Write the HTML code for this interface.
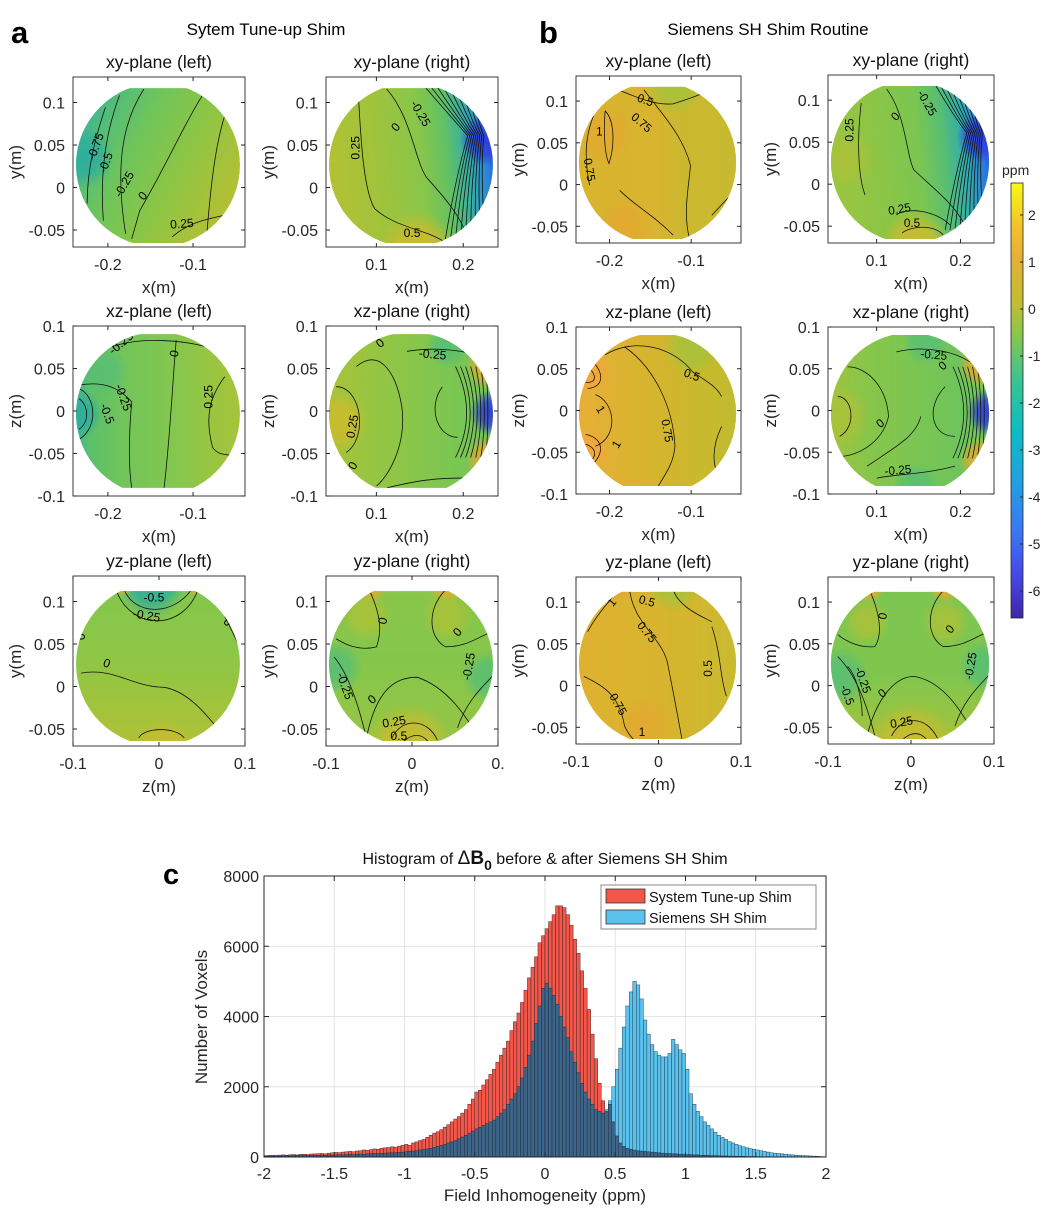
<!DOCTYPE html>
<html><head><meta charset="utf-8">
<style>
html,body{margin:0;padding:0;background:#fff;}
svg{display:block;font-family:"Liberation Sans",sans-serif;}
</style></head>
<body>
<svg id="fig" width="1052" height="1226" viewBox="0 0 1052 1226" xmlns="http://www.w3.org/2000/svg">
<defs id="defs">
<linearGradient id="cbar" x1="0" y1="1" x2="0" y2="0">
<stop offset="0" stop-color="#3e26a8"/><stop offset="0.1" stop-color="#4748e8"/><stop offset="0.2" stop-color="#3a78f5"/><stop offset="0.32" stop-color="#1fa2e0"/><stop offset="0.43" stop-color="#0bbdc3"/><stop offset="0.55" stop-color="#3cc48e"/><stop offset="0.66" stop-color="#8ec648"/><stop offset="0.72" stop-color="#bfbd33"/><stop offset="0.83" stop-color="#e6b035"/><stop offset="0.9" stop-color="#f2c22c"/><stop offset="1" stop-color="#f8fa14"/>
</linearGradient>
</defs>
<g id="panels"></g>
<g id="cb"></g>
<g id="hist"></g>
<text x="11" y="43" font-size="31" font-weight="bold">a</text>
<text x="539" y="43" font-size="31" font-weight="bold">b</text>
<text x="163" y="884" font-size="29" font-weight="bold">c</text>
<text x="266" y="35" font-size="17" text-anchor="middle">Sytem Tune-up Shim</text>
<text x="768" y="35" font-size="17" text-anchor="middle">Siemens SH Shim Routine</text>
</svg>
<script>
// ---------- Histogram data (bin width 0.025 ppm, -2 to 2) ----------
const binStart = -2;
const binWidth = 0.025;
const xTicks = [-2,-1.5,-1,-0.5,0,0.5,1,1.5,2];
const yTicks = [0,2000,4000,6000,8000];
const redCounts = [
40,45,50,45,55,60,50,65,70,60,75,80,70,85,90,95,100,90,110,120,
130,125,140,150,160,150,170,180,200,190,210,230,220,250,260,270,290,280,310,330,
360,330,400,430,470,500,560,620,680,720,780,850,920,1000,1080,1150,1250,1350,1500,1650,
1850,1900,2050,2200,2350,2500,2700,2900,3100,3300,3600,3850,4100,4400,4750,5100,5400,5700,6100,6300,
6500,6700,6900,7150,7150,7100,6900,6600,6200,5800,5300,4800,4200,3500,2800,2100,1600,1300,1500,1000,
600,400,300,250,220,200,180,170,160,150,140,130,120,110,100,100,90,90,80,80,
70,70,60,60,50,50,45,40,40,35,30,30,25,25,20,20,20,15,15,15,
12,12,10,10,10,8,8,8,6,6,6,5,5,5,4,4,3,3,2,2];
const blueCounts = [
20,25,20,30,25,30,35,30,40,35,40,45,40,50,45,50,55,50,60,55,
60,65,60,70,75,70,80,85,80,90,95,100,95,105,110,115,120,125,130,140,
150,160,170,180,200,210,230,250,270,300,330,360,400,430,470,520,570,620,680,740,
800,850,900,950,1000,1050,1150,1250,1350,1500,1650,1800,2000,2250,2550,2900,3300,3800,4300,4800,
4950,4800,4600,4350,4000,3700,3400,3000,2700,2400,2100,1850,1650,1500,1350,1300,1250,1350,1600,2000,
2500,3100,3700,4300,4700,5000,4900,4500,3900,3500,3200,3000,2900,2850,2850,2950,3350,3200,3050,2950,
2500,1800,1500,1300,1150,1000,900,800,700,620,560,500,440,400,360,320,290,260,240,220,
200,180,160,140,120,110,100,90,80,70,60,50,45,40,35,30,25,20,15,10];
const colorbarTicks = [2,1,0,-1,-2,-3,-4,-5,-6];

const NS='http://www.w3.org/2000/svg';
function mk(tag, attrs, parent){const e=document.createElementNS(NS,tag);for(const k in attrs)e.setAttribute(k,attrs[k]);if(parent)parent.appendChild(e);return e;}

// ---------- Histogram ----------
(function(){
const g=document.getElementById('hist');
const L=264,R=826,T=876,B=1157;
const X=v=>L+(v+2)/4*(R-L);
const Y=v=>B-v/8000*(B-T);
const grid=mk('g',{},g);


xTicks.forEach(t=>{mk('line',{x1:X(t),x2:X(t),y1:T,y2:B,stroke:'#e4e4e4','stroke-width':1},grid);});
yTicks.forEach(t=>{mk('line',{x1:L,x2:R,y1:Y(t),y2:Y(t),stroke:'#e4e4e4','stroke-width':1},grid);});
const bars=mk('g',{},g);


redCounts.forEach((v,i)=>{
  const x0=X(binStart+i*binWidth),x1=X(binStart+(i+1)*binWidth);
  const r=mk('rect',{x:x0,y:Y(v),width:x1-x0,height:B-Y(v),fill:'#f5564a',stroke:'#3a2020','stroke-width':0.45},bars);
  
  
});
blueCounts.forEach((v,i)=>{
  const x0=X(binStart+i*binWidth),x1=X(binStart+(i+1)*binWidth);
  const ov=Math.min(v,redCounts[i]);
  const r=mk('rect',{x:x0,y:Y(ov),width:x1-x0,height:B-Y(ov),fill:'#3d6489',stroke:'#1c2a38','stroke-width':0.45},bars);
  
  
  if(v>redCounts[i]){
    const r2=mk('rect',{x:x0,y:Y(v),width:x1-x0,height:Y(ov)-Y(v),fill:'#5bc2ee',stroke:'#1c3a4a','stroke-width':0.45},bars);
    
    
  }
});
mk('rect',{x:L,y:T,width:R-L,height:B-T,fill:'none',stroke:'#262626','stroke-width':1},g);
xTicks.forEach(t=>{
  mk('line',{x1:X(t),x2:X(t),y1:B,y2:B-5,stroke:'#262626'},g);mk('line',{x1:X(t),x2:X(t),y1:T,y2:T+5,stroke:'#262626'},g);
  const tx=mk('text',{x:X(t),y:B+22,'font-size':16,'text-anchor':'middle',fill:'#262626'},g);tx.textContent=String(t);
  
  
});
yTicks.forEach(t=>{
  mk('line',{x1:L,x2:L+5,y1:Y(t),y2:Y(t),stroke:'#262626'},g);mk('line',{x1:R,x2:R-5,y1:Y(t),y2:Y(t),stroke:'#262626'},g);
  const tx=mk('text',{x:L-5,y:Y(t)+6,'font-size':16,'text-anchor':'end',fill:'#262626'},g);tx.textContent=String(t);
  
  
});
const xt=mk('text',{x:545,y:1201,'font-size':17,'text-anchor':'middle',fill:'#262626'},g);xt.textContent='Field Inhomogeneity (ppm)';


const yt=mk('text',{x:0,y:0,'font-size':17,'text-anchor':'middle',fill:'#262626',transform:'translate(207,1017) rotate(-90)'},g);yt.textContent='Number of Voxels';


const tt=mk('text',{x:545,y:864,'font-size':16,'text-anchor':'middle',fill:'#111'},g);
tt.innerHTML='Histogram of <tspan font-size="19">Δ</tspan><tspan font-weight="bold" font-size="19">B</tspan><tspan font-weight="bold" dy="6" font-size="14">0</tspan><tspan dy="-6"> before &amp; after Siemens SH Shim</tspan>';


const lg=mk('g',{},g);


mk('rect',{x:601,y:885,width:215,height:44,fill:'#fff',stroke:'#8a8a8a','stroke-width':1},lg);
const e1=mk('rect',{x:606,y:889,width:39,height:14,fill:'#f5564a',stroke:'#333','stroke-width':0.8},lg);


const e2=mk('rect',{x:606,y:910,width:39,height:14,fill:'#5bc2ee',stroke:'#333','stroke-width':0.8},lg);


const l1=mk('text',{x:649,y:902,'font-size':14.5,fill:'#111'},lg);l1.textContent='System Tune-up Shim';


const l2=mk('text',{x:649,y:923,'font-size':14.5,fill:'#111'},lg);l2.textContent='Siemens SH Shim';


})();

// ---------- Colorbar ----------
(function(){
const g=document.getElementById('cb');
const top=183,bot=618,L=1011,R=1023;
const Y=v=>309-47*v;
mk('rect',{x:L,y:top,width:R-L,height:bot-top,fill:'url(#cbar)',stroke:'#262626','stroke-width':0.8},g);
colorbarTicks.forEach(t=>{
  mk('line',{x1:R-3,x2:R,y1:Y(t),y2:Y(t),stroke:'#262626'},g);
  const tx=mk('text',{x:R+5,y:Y(t)+5,'font-size':14,fill:'#262626'},g);tx.textContent=String(t);
  
  
});
const u=mk('text',{x:1002,y:175,'font-size':14,fill:'#262626'},g);u.textContent='ppm';


})();

// ---------- Contour panels ----------
const panelsG=document.getElementById('panels');
const defs=document.getElementById('defs');
function lg(id,stops,x1,y1,x2,y2){const g=mk('linearGradient',{id:id,x1:x1,y1:y1,x2:x2,y2:y2},defs);stops.forEach(s=>mk('stop',{offset:s[0],'stop-color':s[1]},g));}
function rg(id,c){const g=mk('radialGradient',{id:id},defs);mk('stop',{offset:0,'stop-color':c,'stop-opacity':1},g);mk('stop',{offset:0.55,'stop-color':c,'stop-opacity':0.8},g);mk('stop',{offset:1,'stop-color':c,'stop-opacity':0},g);}
// gradients
lg('gA1',[[0,'#36b29e'],[0.15,'#52bd78'],[0.35,'#70c55a'],[0.6,'#8cc545'],[0.8,'#a4c23a'],[1,'#bdbd30']],0,0.25,1,0.75);
lg('gA2',[[0,'#b3c134'],[0.3,'#a0c33c'],[0.55,'#88c64a'],[0.7,'#62c164'],[0.82,'#36ada6'],[0.92,'#2a86da'],[1,'#3448e0']],0,0.5,1,0.4);
lg('gA3',[[0,'#3cb59a'],[0.1,'#5cc06a'],[0.3,'#72c55a'],[0.6,'#84c74e'],[0.82,'#9ac540'],[1,'#abc23a']],0,0,1,0);
lg('gA4',[[0,'#aac23a'],[0.25,'#98c540'],[0.5,'#88c64a'],[0.8,'#78c654'],[1,'#74c45a']],0,0,1,0);
lg('gA5',[[0,'#5abf72'],[0.12,'#84c74c'],[0.5,'#8ec645'],[0.75,'#a0c43d'],[1,'#b0c035']],0,0,0,1);
lg('gA6',[[0,'#8ac648'],[0.5,'#84c64c'],[1,'#98c542']],0,0,0,1);
lg('gB1',[[0,'#d8b42f'],[0.5,'#d9b42e'],[0.62,'#cdb82f'],[1,'#c6bb30']],0,0,1,0);
lg('gB2',[[0,'#9cc540'],[0.3,'#8cc546'],[0.55,'#7ac652'],[0.7,'#56be74'],[0.83,'#2eaab4'],[0.93,'#2a7ade'],[1,'#3448e0']],0,0.5,1,0.4);
lg('gB3',[[0,'#eaae38'],[0.15,'#e1b134'],[0.4,'#d8b42e'],[0.7,'#ccb82e'],[1,'#bfbc30']],0,0,1,0);
lg('gB4',[[0,'#9ec33e'],[0.25,'#86c64a'],[0.5,'#7cc652'],[0.8,'#6ec45c'],[1,'#70c45c']],0,0,1,0);
lg('gB5',[[0,'#dfb230'],[0.6,'#d6b52e'],[1,'#c8bb30']],0,0,1,0);
lg('gB6',[[0,'#7cc652'],[0.6,'#80c64e'],[1,'#a8c23a']],0,0,0,1);
rg('rTeal','#2fae9c');rg('rBlue','#2e50e0');rg('rDeep','#3040d8');rg('rOr','#e2aa30');rg('rYel','#c9bc2e');rg('rYG','#a8c23a');rg('rGr','#5abf72');rg('rOr2','#f0a83a');

const rows=[{t:11,b:164,yr:[-0.07,0.13],yt:[-0.05,0,0.05,0.1],yl:'y(m)'},{t:8,b:160,yr:[-0.1,0.1],yt:[-0.1,-0.05,0,0.05,0.1],yl:'z(m)'},{t:15,b:163,yr:[-0.07,0.13],yt:[-0.05,0,0.05,0.1],yl:'y(m)'}];
const cols=[{x0:73,x1:245,rowY:[[77,247],[326,496],[576,746]]},{x0:326,x1:498,rowY:[[77,247],[326,496],[576,746]]},{x0:576,x1:741,rowY:[[76,243],[327,494],[577,744]]},{x0:828,x1:994,rowY:[[75,243],[327,494],[577,744]]}];
const xRanges=[[-0.241,-0.039],[0.042,0.240],[-0.241,-0.039],[0.042,0.240]];
const xTickSets=[[-0.2,-0.1],[0.1,0.2],[-0.2,-0.1],[0.1,0.2]];

// panel fill content (local coordinates 170 x 168)
function vlines(n,f){let s=[];for(let k=0;k<n;k++)s.push(f(k));return s;}
const content={
'A1':{g:'gA1',blobs:[['rTeal',10,80,30]],paths:['M32 30 C22 60 14 90 14 125','M46 18 C34 50 26 90 30 142','M70 12 C52 40 40 80 52 155','M128 18 C108 50 96 80 66 132 L58 160','M150 38 C140 70 136 110 132 158','M98 158 C115 143 135 140 148 137'],labels:[['-0.75',26,70,-70],['-0.5',36,86,-70],['-0.25',54,108,-60],['0',72,120,-50],['0.25',108,149,-5]]},
'A2':{g:'gA2',blobs:[['rYel',90,170,38],['rDeep',158,62,26]],paths:['M32 18 C34 50 36 110 48 130 C70 150 100 150 120 165','M60 12 C85 40 88 85 100 100 C118 120 135 140 140 160'].concat(vlines(9,k=>'M'+(98+k*6)+' 10 Q'+(124+k*3)+' 40 '+(140+k*2)+' 58 Q'+(128+k*3)+' 100 '+(118+k*5)+' 160')),labels:[['0.25',33,70,-90],['0',72,52,-50],['-0.25',90,38,60],['0.5',85,158,0]]},
'A3':{g:'gA3',blobs:[['rTeal',5,87,24],['rGr',30,45,25]],paths:['M6 62 C22 68 26 100 6 112','M6 72 C16 78 16 96 6 102','M40 20 C70 10 110 15 130 20','M8 58 C30 55 45 60 58 75 C55 110 55 140 58 160','M102 14 C98 60 96 110 90 160','M150 50 C135 70 130 90 138 120 C145 130 155 125 160 130'],labels:[['-0.25',50,20,-40],['-0.5',30,88,70],['-0.25',46,72,70],['0',104,28,-80],['0.25',138,70,-90]]},
'A4':{g:'gA4',blobs:[['rYel',12,95,30],['rOr',162,40,24],['rOr',162,132,24],['rDeep',166,86,24],['rGr',120,20,22]],paths:['M30 40 C55 20 70 50 75 80 C80 120 60 150 50 158','M10 60 C35 60 42 110 20 125','M80 25 C110 20 140 25 150 30','M115 60 C100 80 110 110 130 110','M60 160 C100 150 120 150 150 150'].concat(vlines(7,k=>'M'+(128+k*5)+' 40 Q'+(150+k*2)+' 86 '+(128+k*5)+' 130')),labels:[['0',56,20,-40],['-0.25',105,32,5],['0.25',30,100,-80],['0',30,140,-60]]},
'A5':{g:'gA5',blobs:[['rTeal',78,8,34],['rYel',90,172,30],['rOr',50,10,10],['rOr',120,10,10]],paths:['M50 12 C60 40 100 40 118 12','M42 12 C56 55 110 55 124 12','M8 96 C40 90 60 110 90 110 C120 115 140 150 150 158','M150 40 C160 60 165 70 168 80','M65 160 C70 150 100 148 110 160'],labels:[['-0.5',80,25,0],['-0.25',72,43,10],['0',12,60,-90],['0',32,90,20],['0',150,48,50]]},
'A6':{g:'gA6',blobs:[['rYel',82,168,42],['rOr',42,10,18],['rOr',120,10,18],['rGr',10,90,26],['rGr',160,100,26],['rYG',40,40,25],['rYG',120,40,25]],paths:['M42 12 C20 25 15 40 10 50','M42 12 C55 40 55 55 50 70 C30 75 15 65 10 62','M120 12 C100 30 100 60 118 70 C140 70 150 60 165 55','M8 80 C25 100 35 140 40 160','M130 150 C140 120 160 105 168 95','M40 160 C50 110 70 100 90 100 C120 110 140 140 150 160','M65 160 C75 140 100 140 110 162','M75 165 C85 155 95 155 102 165'],labels:[['0',60,45,-80],['0',133,58,-50],['-0.25',15,110,70],['-0.25',145,90,-80],['0',48,125,-40],['0.25',68,148,-10],['0.5',72,162,0]]},
'B1':{g:'gB1',blobs:[['rOr',30,60,30],['rOr',50,150,28],['rYG',100,10,30]],paths:['M38 12 C60 20 80 30 100 28 C120 22 130 18 140 14','M18 40 C10 60 8 80 14 110','M30 35 C28 60 30 80 34 88 C40 70 40 45 30 35','M70 14 C90 40 110 60 118 90 C115 120 110 140 118 168','M45 115 C60 130 80 140 100 160','M140 140 C150 130 158 120 166 115'],labels:[['0.5',70,28,20],['0.75',65,50,40],['1',24,60,0],['0.75',10,95,80]]},
'B2':{g:'gB2',blobs:[['rYel',90,170,36],['rYG',20,85,28],['rDeep',158,62,26]],paths:['M34 28 C30 60 30 100 38 120','M60 14 C80 40 80 80 88 95 C110 115 130 130 140 150','M70 140 C80 132 110 135 125 150','M76 158 C86 150 110 150 118 160'].concat(vlines(9,k=>'M'+(110+k*5)+' 10 Q'+(128+k*3)+' 40 '+(142+k*2)+' 58 Q'+(130+k*3)+' 100 '+(120+k*5)+' 155')),labels:[['0.25',26,55,-90],['0',72,44,-50],['-0.25',98,30,60],['0.25',74,138,-10],['0.5',86,152,0]]},
'B3':{g:'gB3',blobs:[['rOr2',15,45,22],['rOr2',15,125,22],['rYG',120,20,30]],paths:['M12 30 C30 45 30 60 12 62','M10 38 C22 48 22 56 10 56','M10 108 C30 112 30 130 12 142','M10 118 C22 122 22 132 12 136','M20 68 C40 75 45 110 20 120','M30 28 C60 10 100 20 120 45 C135 55 145 60 150 70','M50 20 C80 40 100 80 102 120 C100 140 90 150 85 160','M150 100 C140 120 140 140 148 150'],labels:[['1',22,85,60],['1',45,120,-60],['0.5',118,52,20],['0.75',90,105,80]]},
'B4':{g:'gB4',blobs:[['rYG',10,90,34],['rOr',158,38,24],['rOr',158,134,24],['rDeep',166,86,24],['rGr',100,15,24],['rGr',90,160,24]],paths:['M20 40 C40 40 60 60 62 90 C55 120 25 130 14 130','M70 25 C100 18 130 25 145 35','M10 70 C25 70 30 100 12 110','M120 60 C100 80 105 110 130 110','M50 152 C70 148 100 148 130 140','M40 140 C70 120 90 110 95 90'].concat(vlines(7,k=>'M'+(128+k*5)+' 40 Q'+(150+k*2)+' 86 '+(128+k*5)+' 132')),labels:[['-0.25',108,32,5],['0',120,42,-40],['0',56,100,-40],['-0.25',72,148,-5]]},
'B5':{g:'gB5',blobs:[['rOr',45,10,16],['rYG',100,8,28],['rOr',70,150,30]],paths:['M44 12 C30 30 20 40 12 55','M55 12 C60 50 90 60 95 90 C100 115 105 140 110 168','M100 12 C105 30 130 40 140 45','M140 50 C150 80 148 100 155 120','M8 100 C30 110 45 120 50 150 C55 160 60 165 65 168'],labels:[['1',40,28,-50],['0.5',72,28,15],['0.75',70,58,50],['0.5',140,92,-90],['0.75',40,130,60],['1',68,160,0]]},
'B6':{g:'gB6',blobs:[['rYel',85,170,44],['rOr',42,10,16],['rOr',120,10,16],['rGr',12,100,30],['rGr',160,90,26],['rYG',40,45,24],['rYG',120,45,24]],paths:['M42 12 C20 25 15 40 10 50','M42 12 C55 40 55 60 48 70 C30 72 15 62 10 58','M120 12 C100 30 100 60 118 70 C140 70 150 60 165 55','M10 80 C30 100 40 130 48 160','M20 90 C30 100 35 125 35 140','M130 150 C140 120 160 105 168 95','M40 160 C50 120 70 100 88 100 C120 105 140 140 150 160','M65 160 C75 140 100 138 112 162','M75 165 C85 155 95 155 102 165'],labels:[['0',60,40,-80],['0',128,55,-50],['-0.5',16,120,70],['-0.25',32,105,70],['-0.25',150,90,-80],['0',58,120,-40],['0.25',76,150,-10]]}
};
const keys=[['A1','A3','A5'],['A2','A4','A6'],['B1','B3','B5'],['B2','B4','B6']];
const titles=[['xy-plane (left)','xz-plane (left)','yz-plane (left)'],['xy-plane (right)','xz-plane (right)','yz-plane (right)']];

cols.forEach((col,ci)=>{
 rows.forEach((row,ri)=>{
  const [y0,y1]=col.rowY[ri]; const x0=col.x0,x1=col.x1; const w=x1-x0,h=y1-y0;
  const key=keys[ci][ri]; const c=content[key];
  const pg=mk('g',{},panelsG);
  
  
  // clip
  const cpR=mk('clipPath',{id:'cr'+key},defs);mk('rect',{x:0,y:row.t,width:170,height:row.b-row.t},cpR);
  const cpC=mk('clipPath',{id:'cc'+key},defs);mk('circle',{cx:84,cy:87,r:81},cpC);
  const inner=mk('g',{transform:'translate('+x0+','+y0+') scale('+(w/170)+','+(h/168)+')'},pg);
  const g1=mk('g',{'clip-path':'url(#cr'+key+')'},inner);
  const g2=mk('g',{'clip-path':'url(#cc'+key+')'},g1);
  const fillRect=mk('rect',{x:0,y:0,width:170,height:168,fill:'url(#'+c.g+')'},g2);
  
  
  c.blobs.forEach(b=>{mk('ellipse',{cx:b[1],cy:b[2],rx:b[3],ry:b[3],fill:'url(#'+b[0]+')'},g2);});
  c.paths.forEach(d=>{const p=mk('path',{d:d,fill:'none',stroke:'#111','stroke-width':0.8},g2);
    
    });
  c.labels.forEach(l=>{const t=mk('text',{x:0,y:0,'font-size':12,'text-anchor':'middle',fill:'#000',transform:'translate('+l[1]+','+l[2]+') rotate('+l[3]+')'},g2);t.textContent=l[0];
    
    });
  // axes box
  mk('rect',{x:x0,y:y0,width:w,height:h,fill:'none',stroke:'#262626','stroke-width':0.9},pg);
  const xr=ri===2?[-0.1,0.1]:xRanges[ci];
  const xt=ri===2?[-0.1,0,0.1]:xTickSets[ci];
  const X=v=>x0+(v-xr[0])/(xr[1]-xr[0])*w;
  const Y=v=>y1-(v-row.yr[0])/(row.yr[1]-row.yr[0])*h;
  xt.forEach(t=>{
    const px=X(t);
    mk('line',{x1:px,x2:px,y1:y1,y2:y1-4,stroke:'#262626'},pg);mk('line',{x1:px,x2:px,y1:y0,y2:y0+4,stroke:'#262626'},pg);
    let lab=String(t); if(ci===1&&ri===2&&t===0.1)lab='0.';
    const tx=mk('text',{x:px,y:y1+23,'font-size':16,'text-anchor':'middle',fill:'#262626'},pg);tx.textContent=lab;
    
    
  });
  row.yt.forEach(t=>{
    const py=Y(t);
    mk('line',{x1:x0,x2:x0+4,y1:py,y2:py,stroke:'#262626'},pg);mk('line',{x1:x1,x2:x1-4,y1:py,y2:py,stroke:'#262626'},pg);
    const tx=mk('text',{x:x0-8,y:py+6,'font-size':16,'text-anchor':'end',fill:'#262626'},pg);tx.textContent=String(t);
    
    
  });
  const xl=mk('text',{x:(x0+x1)/2,y:y1+46,'font-size':17,'text-anchor':'middle',fill:'#262626'},pg);
  xl.textContent=ri===2?'z(m)':'x(m)';
  
  
  const yl=mk('text',{x:0,y:0,'font-size':17,'text-anchor':'middle',fill:'#262626',transform:'translate('+(x0-52)+','+((y0+y1)/2)+') rotate(-90)'},pg);
  yl.textContent=row.yl;
  
  
  const tt=mk('text',{x:(x0+x1)/2,y:y0-9,'font-size':17.5,'text-anchor':'middle',fill:'#111'},pg);
  tt.textContent=titles[ci%2][ri];
  
  
 });
});
</script>
</body></html>
